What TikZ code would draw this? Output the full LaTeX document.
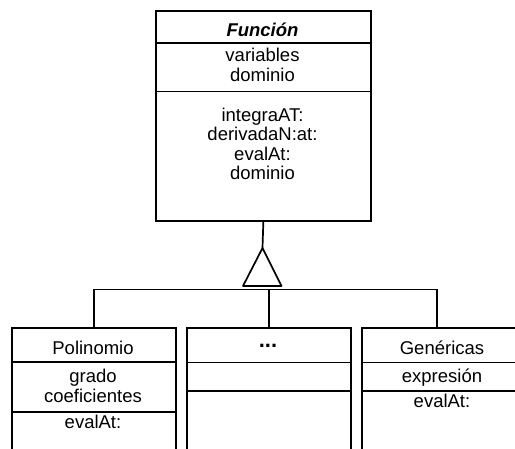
\documentclass[tikz,border=0pt]{standalone}
\usepackage{fontspec}
\setmainfont{Liberation Sans}
\begin{document}
\begin{tikzpicture}[x=1pt,y=-1pt,
  umlbox/.style={draw=black, line width=1.7pt, fill=white, inner sep=0pt, anchor=north west},
  sep/.style={line width=1.7pt},
  conn/.style={line width=1.7pt},
  txt/.style={inner sep=0pt, anchor=base, font=\fontsize{18.5}{19.5}\selectfont}
]
\useasboundingbox (0,0) rectangle (515,449);
\clip (0,0) rectangle (515,449);

% superclass
\node[umlbox, minimum width=215pt, minimum height=210pt] (fun) at (155,10) {};
\draw[sep] (155,43) -- (370,43);
\draw[sep] (155,91.5) -- (370,91.5);
\node[txt, font=\fontsize{18.5}{19.5}\selectfont\bfseries\itshape] (funT) at (262.5,37) {Función};
\node[txt] (funA1) at (262.5,62) {variables};
\node[txt] (funA2) at (262.5,82) {dominio};
\node[txt] (funM1) at (262.5,122) {integraAT:};
\node[txt] (funM2) at (262.5,141) {derivadaN:at:};
\node[txt] (funM3) at (262.5,160.5) {evalAt:};
\node[txt] (funM4) at (262.5,180) {dominio};

% subclasses
\node[umlbox, minimum width=164pt, minimum height=122.5pt] (pol) at (11,327) {};
\draw[sep] (11,362) -- (175,362);
\draw[sep] (11,412) -- (175,412);
\node[txt] (polT) at (93,355) {Polinomio};
\node[txt] (polA1) at (93,383) {grado};
\node[txt] (polA2) at (93,403) {coeficientes};
\node[txt] (polM1) at (93,429) {evalAt:};

\node[umlbox, minimum width=164pt, minimum height=122.5pt] (otr) at (186,327) {};
\draw[sep] (186,362.5) -- (350,362.5);
\draw[sep] (186,391) -- (350,391);
\node[txt, font=\fontsize{22}{24}\selectfont\bfseries] (otrT) at (268,348) {...};

\node[umlbox, minimum width=164pt, minimum height=122.5pt] (gen) at (361,327) {};
\draw[sep] (361,362.5) -- (525,362.5);
\draw[sep] (361,391) -- (525,391);
\node[txt] (genT) at (442,355) {Genéricas};
\node[txt] (genA1) at (442,383) {expresión};
\node[txt] (genM1) at (442,408) {evalAt:};

% generalisation arrow
\coordinate (apex) at (262.5,248);
\coordinate (bl) at (243,286);
\coordinate (br) at (281.5,286);
\draw[conn] (fun.south) -- (apex);
\draw[conn, line join=round] (apex) -- (bl) -- (br) -- cycle;
\coordinate (barL) at (pol.north |- 0,289.5);
\coordinate (barR) at (437,289.5);
\coordinate (barM) at (otr.north |- 0,289.5);
\draw[conn] (barL) -- (barR);
\draw[conn] (barL) -- (barL |- pol.north);
\draw[conn] (barM) -- (otr.north);
\draw[conn] (barR) -- (barR |- gen.north);
\end{tikzpicture}
\end{document}
